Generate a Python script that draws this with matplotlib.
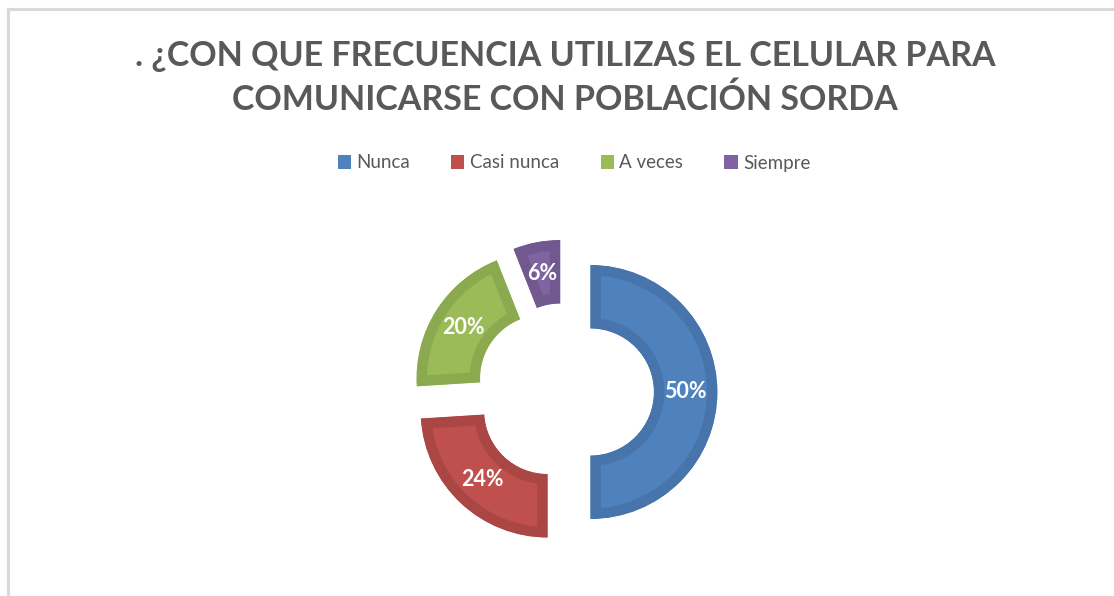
import matplotlib.pyplot as plt
from matplotlib.patches import Patch
from matplotlib.lines import Line2D

# data
categories = ['Nunca', 'Casi nunca', 'A veces', 'Siempre']
values = [50, 24, 20, 6]
fill_colors = ['#4F81BD', '#C0504D', '#9BBB59', '#8064A2']
edge_colors = ['#4674AB', '#AA4644', '#8BA94F', '#71598F']
title = '. ¿CON QUE FRECUENCIA UTILIZAS EL CELULAR PARA\nCOMUNICARSE CON POBLACIÓN SORDA'

plt.rcParams['font.family'] = ['Lato', 'DejaVu Sans']

W, H = 1114, 596
fig = plt.figure(figsize=(W / 100, H / 100), dpi=100)

# chart frame (light grey, only left and top visible in crop)
fig.add_artist(Line2D([7.5 / W, 7.5 / W], [0, 1 - 8.5 / H], color='#D9D9D9', lw=2.2))
fig.add_artist(Line2D([7.5 / W, 1], [1 - 8.5 / H, 1 - 8.5 / H], color='#D9D9D9', lw=2.2))

# donut axes: centre at (565, 392) px, outer radius 127 px
cx, cy, r_px = 565, 392, 127
box = 420
ax = fig.add_axes([(cx - box / 2) / W, 1 - (cy + box / 2) / H, box / W, box / H])
lim = (box / 2) / r_px

wedges, texts, autotexts = ax.pie(
    values, colors=fill_colors, startangle=90, counterclock=False,
    explode=[0.2] * len(values), radius=1,
    wedgeprops=dict(width=0.5, linewidth=0),
    autopct=lambda p: f'{p:.0f}%', pctdistance=0.75,
    textprops=dict(color='white', fontsize=15.5, fontweight='bold'))
ax.set_xlim(-lim, lim)
ax.set_ylim(-lim, lim)
ax.set_aspect('equal')
ax.axis('off')

# darker inner rim: stroke clipped to the wedge itself
for w, ec in zip(wedges, edge_colors):
    w.set_edgecolor(ec)
    w.set_linewidth(15)
    w.set_clip_on(True)
    w.set_clip_path(w)

fig.text(cx / W, 1 - 78 / H, title, ha='center', va='center',
         fontsize=24.5, fontweight='bold', color='#595959', linespacing=1.42)

handles = [Patch(facecolor=c, edgecolor='none') for c in fill_colors]
fig.legend(handles, categories, loc='center', bbox_to_anchor=(574 / W, 1 - 163 / H),
           ncol=4, frameon=False, fontsize=13.5, handlelength=0.7, handleheight=0.7,
           handletextpad=0.3, columnspacing=2.2, labelcolor='#595959')

fig.savefig('out.png', dpi=100, facecolor='white')
